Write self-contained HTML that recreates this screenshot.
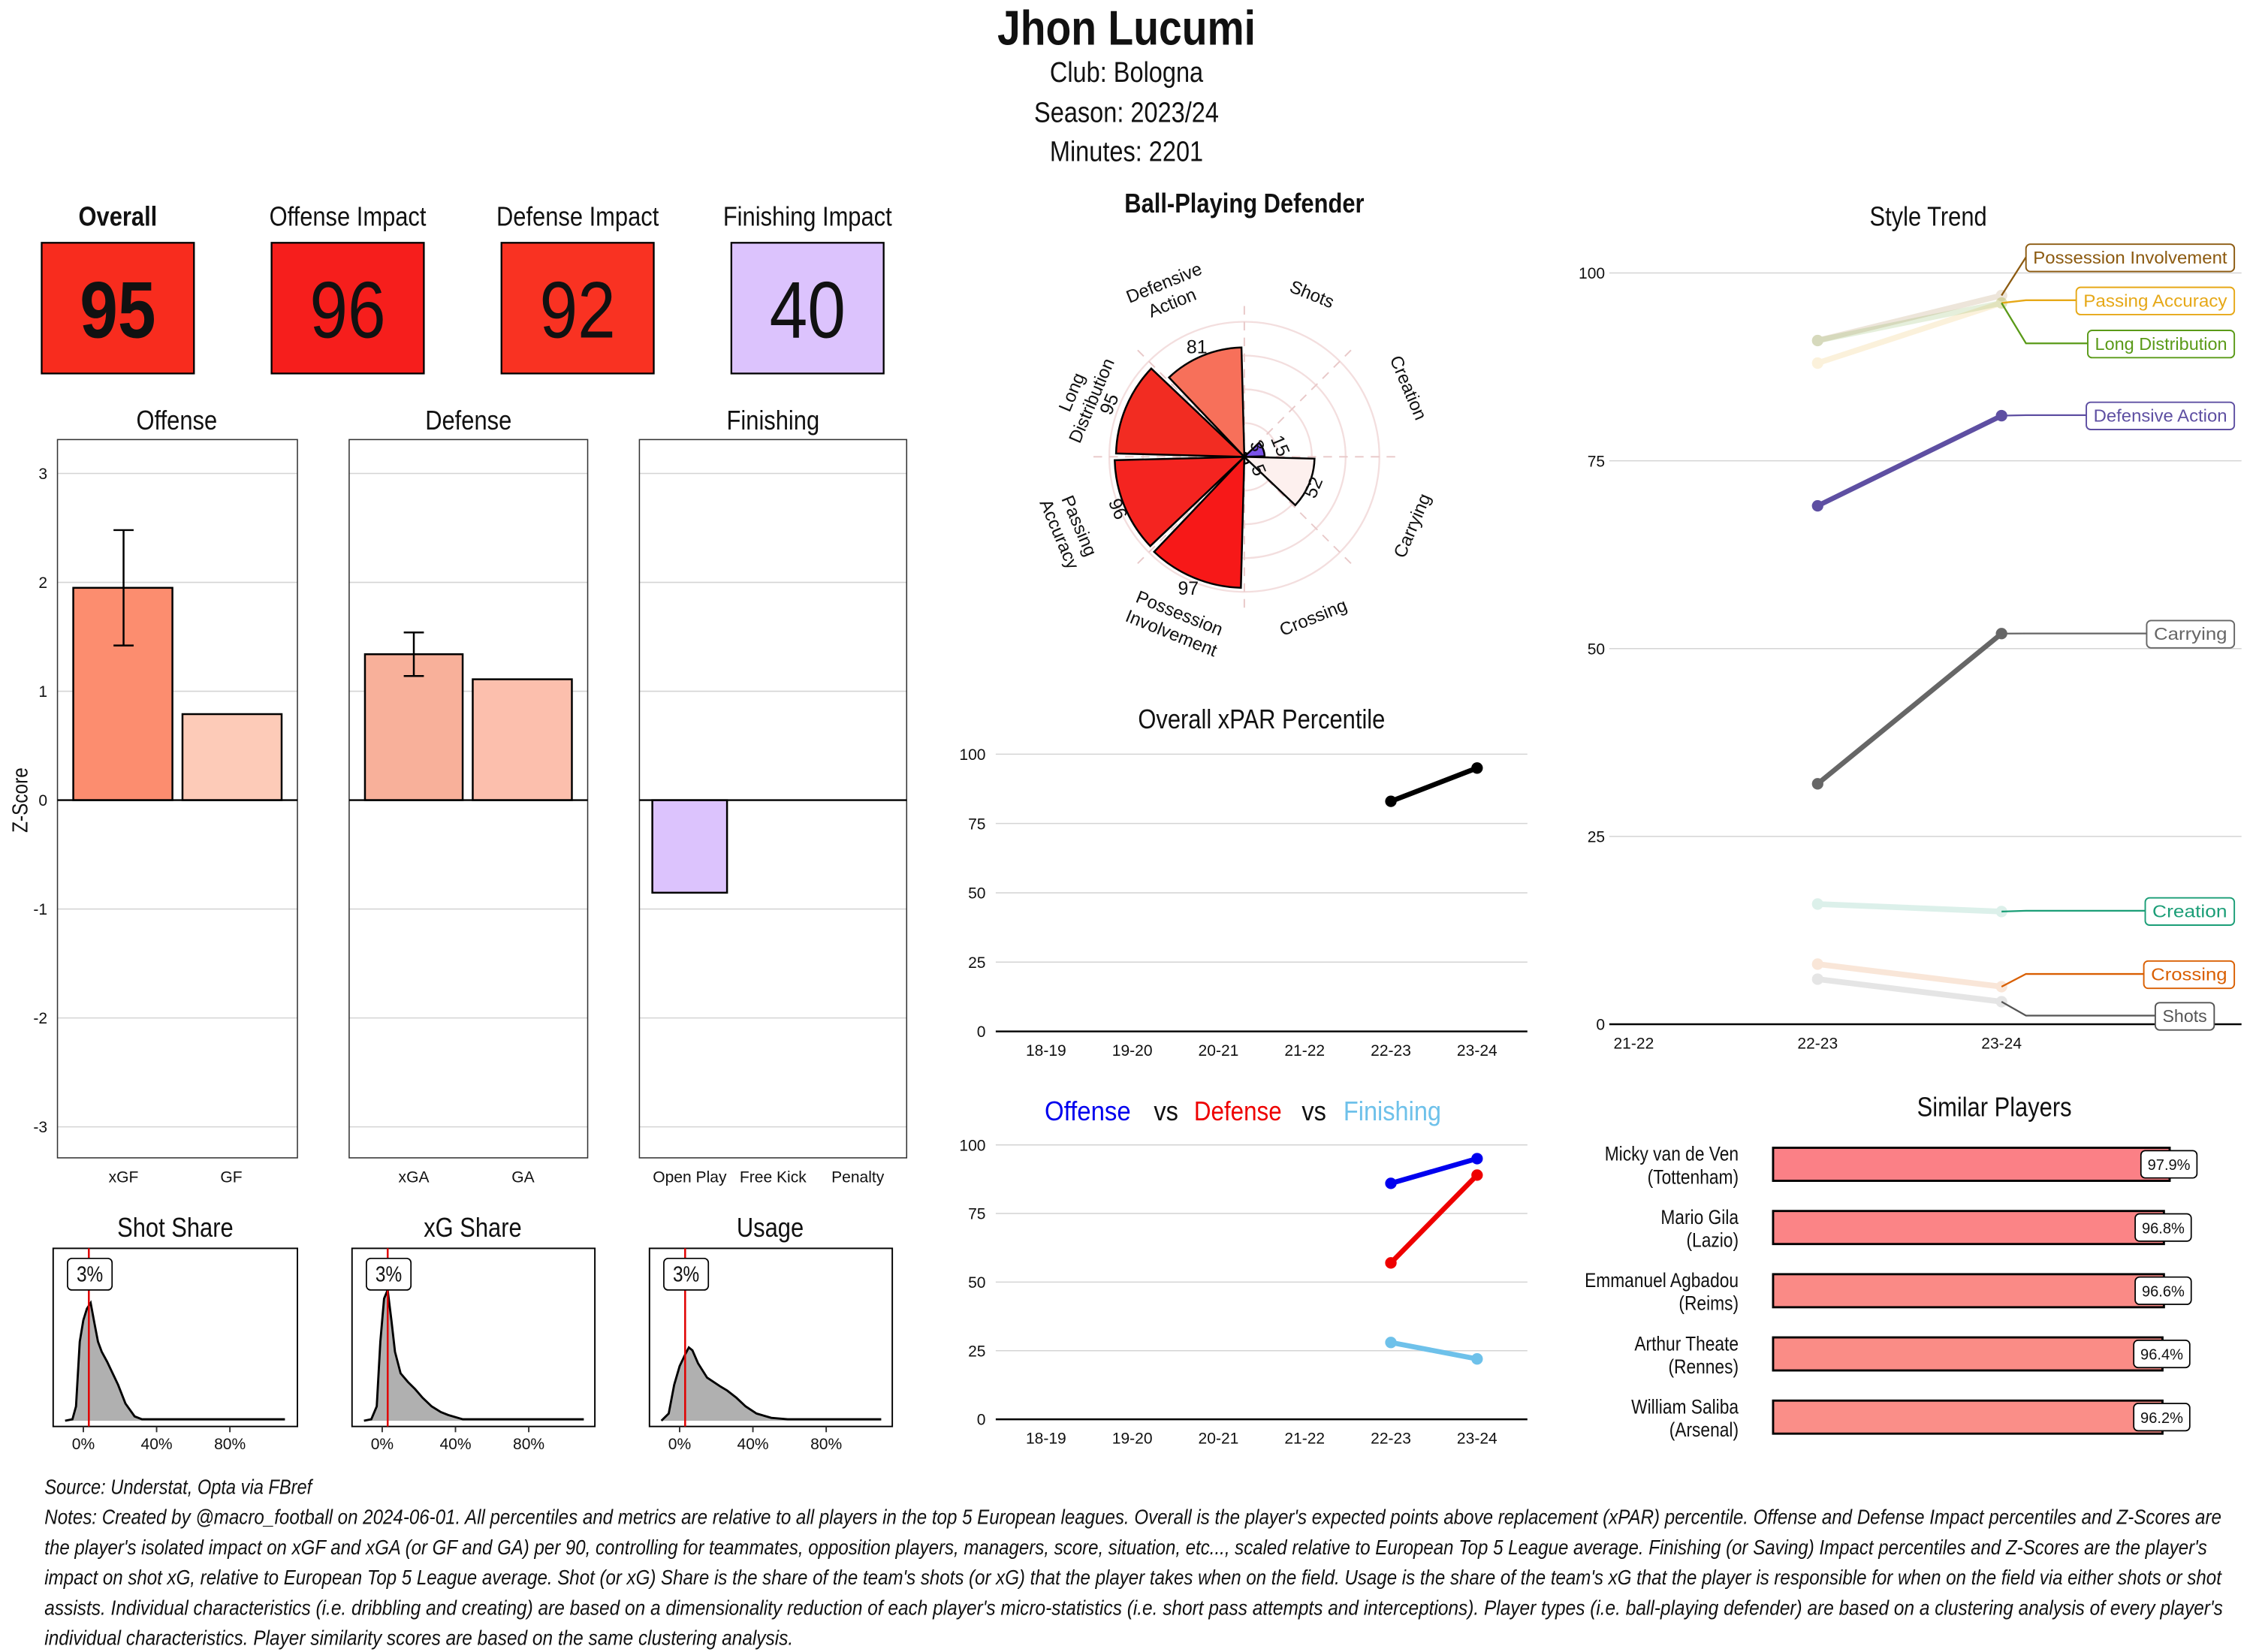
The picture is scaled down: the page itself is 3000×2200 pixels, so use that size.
<!DOCTYPE html>
<html><head><meta charset="utf-8"><style>
html,body{margin:0;padding:0;background:#fff;}
svg{display:block;}
text{font-family:"Liberation Sans Narrow","Liberation Sans",sans-serif;}
text:not([fill]){fill:#111;}
.ax{font-family:"Liberation Sans",sans-serif;font-size:11px;fill:#333;}
.gr{stroke:#d4d4d4;stroke-width:0.8;}
.ft{font-style:italic;font-size:14.5px;fill:#111;}
</style></head><body>
<svg id="s" width="3000" height="2200" viewBox="0 0 1568 1150" preserveAspectRatio="none" xmlns="http://www.w3.org/2000/svg">
<rect width="1568" height="1150" fill="#fff"/>
<text class="n" x="784" y="31" text-anchor="middle" font-size="34" font-weight="bold">Jhon Lucumi</text>
<text class="n" x="784" y="57" text-anchor="middle" font-size="20">Club:  Bologna</text>
<text class="n" x="784" y="85" text-anchor="middle" font-size="20">Season:  2023/24</text>
<text class="n" x="784" y="112" text-anchor="middle" font-size="20">Minutes:  2201</text>

<text class="n" x="82" y="157" text-anchor="middle" font-size="19" font-weight="bold">Overall</text>
<text class="n" x="242" y="157" text-anchor="middle" font-size="19">Offense Impact</text>
<text class="n" x="402" y="157" text-anchor="middle" font-size="19">Defense Impact</text>
<text class="n" x="562" y="157" text-anchor="middle" font-size="19">Finishing Impact</text>
<rect x="29" y="169" width="106" height="91" fill="#f82c1e" stroke="#000" stroke-width="1.2"/>
<rect x="189" y="169" width="106" height="91" fill="#f61e1c" stroke="#000" stroke-width="1.2"/>
<rect x="349" y="169" width="106" height="91" fill="#f93222" stroke="#000" stroke-width="1.2"/>
<rect x="509" y="169" width="106" height="91" fill="#dcc3fd" stroke="#000" stroke-width="1.2"/>
<text class="n" x="82" y="235" text-anchor="middle" font-size="56" font-weight="bold">95</text>
<text class="n" x="242" y="235" text-anchor="middle" font-size="56">96</text>
<text class="n" x="402" y="235" text-anchor="middle" font-size="56">92</text>
<text class="n" x="562" y="235" text-anchor="middle" font-size="56">40</text>

<g id="zp"></g>
<text class="n" x="123" y="299" text-anchor="middle" font-size="19">Offense</text>
<text class="n" x="326" y="299" text-anchor="middle" font-size="19">Defense</text>
<text class="n" x="538" y="299" text-anchor="middle" font-size="19">Finishing</text>
<text transform="translate(19,557) rotate(-90) scale(0.85,1)" text-anchor="middle" font-size="15">Z-Score</text>

<text class="n" x="122" y="861" text-anchor="middle" font-size="19">Shot Share</text>
<text class="n" x="329" y="861" text-anchor="middle" font-size="19">xG Share</text>
<text class="n" x="536" y="861" text-anchor="middle" font-size="19">Usage</text>
<g id="dp"></g>

<text class="n" x="866" y="148" text-anchor="middle" font-size="19" font-weight="bold">Ball-Playing Defender</text>
<g id="polar"></g>

<text class="n" x="878" y="507" text-anchor="middle" font-size="19">Overall xPAR Percentile</text>
<g id="xpar"></g>
<text x="727" y="780" font-size="19" fill="#0000ee" textLength="60" lengthAdjust="spacingAndGlyphs">Offense</text>
<text x="803" y="780" font-size="19" textLength="17" lengthAdjust="spacingAndGlyphs">vs</text>
<text x="831" y="780" font-size="19" fill="#ee0000" textLength="61" lengthAdjust="spacingAndGlyphs">Defense</text>
<text x="906" y="780" font-size="19" textLength="17" lengthAdjust="spacingAndGlyphs">vs</text>
<text x="935" y="780" font-size="19" fill="#6ec1ea" textLength="68" lengthAdjust="spacingAndGlyphs">Finishing</text>
<g id="ovd"></g>

<text class="n" x="1342" y="157" text-anchor="middle" font-size="19">Style Trend</text>
<g id="st"></g>

<text class="n" x="1388" y="777" text-anchor="middle" font-size="19">Similar Players</text>
<g id="sp"></g>

<text class="ft" x="31" y="1040" textLength="186" lengthAdjust="spacingAndGlyphs">Source: Understat, Opta via FBref</text>
<text class="ft" x="31" y="1061" textLength="1515" lengthAdjust="spacingAndGlyphs">Notes: Created by @macro_football on 2024-06-01. All percentiles and metrics are relative to all players in the top 5 European leagues. Overall is the player's expected points above replacement (xPAR) percentile. Offense and Defense Impact percentiles and Z-Scores are</text>
<text class="ft" x="31" y="1082" textLength="1505" lengthAdjust="spacingAndGlyphs">the player's isolated impact on xGF and xGA (or GF and GA) per 90, controlling for teammates, opposition players, managers, score, situation, etc..., scaled relative to European Top 5 League average. Finishing (or Saving) Impact percentiles and Z-Scores are the player's</text>
<text class="ft" x="31" y="1103" textLength="1515" lengthAdjust="spacingAndGlyphs">impact on shot xG, relative to European Top 5 League average. Shot (or xG) Share is the share of the team's shots (or xG) that the player takes when on the field. Usage is the share of the team's xG that the player is responsible for when on the field via either shots or shot</text>
<text class="ft" x="31" y="1124" textLength="1516" lengthAdjust="spacingAndGlyphs">assists. Individual characteristics (i.e. dribbling and creating) are based on a dimensionality reduction of each player's micro-statistics (i.e. short pass attempts and interceptions). Player types (i.e. ball-playing defender) are based on a clustering analysis of every player's</text>
<text class="ft" x="31" y="1145" textLength="521" lengthAdjust="spacingAndGlyphs">individual characteristics. Player similarity scores are based on the same clustering analysis.</text>
</svg>
<script>
const NS="http://www.w3.org/2000/svg";
function el(parent,tag,attrs,txt){const e=document.createElementNS(NS,tag);for(const k in attrs)e.setAttribute(k,attrs[k]);if(txt!==undefined)e.textContent=txt;document.getElementById(parent).appendChild(e);return e;}
const zy=v=>557-v*75.8;
const panels=[[40,207],[243,409],[445,631]];
panels.forEach(([a,b])=>{
  for(let v=-3;v<=3;v++){ if(v!==0) el('zp','line',{x1:a,x2:b,y1:zy(v),y2:zy(v),class:'gr'}); }
  el('zp','rect',{x:a,y:306,width:b-a,height:500,fill:'none',stroke:'#333','stroke-width':0.8});
});
for(let v=-3;v<=3;v++) el('zp','text',{x:33,y:zy(v)+4,'text-anchor':'end',class:'ax'},String(v));
function bar(x1,x2,v,c){const y=Math.min(zy(v),557),h=Math.abs(zy(v)-557);el('zp','rect',{x:x1,y:y,width:x2-x1,height:h,fill:c,stroke:'#000','stroke-width':1.3});}
bar(51,120,1.95,'#fc8d6f');bar(127,196,0.79,'#fdcbb8');bar(254,322,1.34,'#f8b09a');bar(329,398,1.11,'#fcbfad');bar(454,506,-0.85,'#dcc3fd');
panels.forEach(([a,b])=>el('zp','line',{x1:a,x2:b,y1:557,y2:557,stroke:'#000','stroke-width':1.2}));
function eb(x,lo,hi){el('zp','path',{d:`M${x-7},${zy(hi)}H${x+7}M${x},${zy(hi)}V${zy(lo)}M${x-7},${zy(lo)}H${x+7}`,stroke:'#000','stroke-width':1.3,fill:'none'});}
eb(86,1.42,2.48);eb(288,1.14,1.54);
[['xGF',86],['GF',161],['xGA',288],['GA',364],['Open Play',480],['Free Kick',538],['Penalty',597]].forEach(([t,x])=>el('zp','text',{x:x,y:823,'text-anchor':'middle',class:'ax'},t));

const dens=[
 [[-10,0],[-6,1],[-4,10],[-2,55],[0,70],[2,78],[4,82],[6,68],[8,55],[10,48],[13,41],[16,33],[19,25],[23,12],[28,3],[32,1],[60,1],[110,1]],
 [[-10,0],[-6,1],[-3,10],[-1,55],[1,85],[3,91],[5,70],[7,48],[10,33],[14,27],[18,22],[22,16],[27,10],[32,6],[36,4],[44,1],[80,1],[110,1]],
 [[-10,0],[-6,5],[-3,25],[0,38],[3,46],[5,51],[7,49],[10,40],[15,30],[22,24],[26,21],[31,16],[36,10],[42,5],[50,2],[59,1],[110,1]]];
[[37,207],[245,414],[452,621]].forEach(([a,b],i)=>{
  const x0=a+21, sx=51/40, base=989;
  let d='';
  dens[i].forEach(([p,h],j)=>{d+=(j?'L':'M')+`${(x0+p*sx).toFixed(1)},${(base-h).toFixed(1)}`;});
  el('dp','path',{d:d+`L${x0+110*sx},${base}L${x0-10*sx},${base}Z`,fill:'#b0b0b0',stroke:'none'});
  el('dp','path',{d:d,fill:'none',stroke:'#000','stroke-width':1.5});
  el('dp','rect',{x:a,y:869,width:b-a,height:124,fill:'none',stroke:'#000','stroke-width':1});
  el('dp','line',{x1:x0+3*sx,x2:x0+3*sx,y1:869,y2:993,stroke:'#e00000','stroke-width':1.3});
  el('dp','rect',{x:a+10,y:876,width:31,height:22,rx:3,fill:'#fff',stroke:'#000','stroke-width':0.9});
  el('dp','text',{transform:`translate(${a+25.5},892) scale(0.85,1)`,'text-anchor':'middle','font-size':15},'3%');
  [0,40,80].forEach(p=>{const x=x0+p*sx;el('dp','line',{x1:x,x2:x,y1:993,y2:997,stroke:'#333'});el('dp','text',{x:x,y:1009,'text-anchor':'middle',class:'ax'},p+'%');});
});

const cx=866,cy=318,k=0.94;
const pt=(r,t)=>[cx+r*Math.sin(t*Math.PI/180),cy-r*Math.cos(t*Math.PI/180)];
[25,50,75,100].forEach(v=>el('polar','circle',{cx:cx,cy:cy,r:v*k,fill:'none',stroke:'#f3dede','stroke-width':1.2}));
for(let a=0;a<360;a+=45){const p=pt(105,a);el('polar','line',{x1:cx,y1:cy,x2:p[0],y2:p[1],stroke:'#e8c8c8','stroke-dasharray':'6,5','stroke-width':1});}
const vals=[[3,'#fff5f0'],[15,'#7a52e8'],[52,'#fdf0ee'],[5,'#fff5f0'],[97,'#f71818'],[96,'#f42420'],[95,'#f22c22'],[81,'#f7705a']];
vals.forEach(([v,c],i)=>{const a1=i*45+1.5,a2=i*45+43.5,r=v*k;const p1=pt(r,a1),p2=pt(r,a2);
 el('polar','path',{d:`M${cx},${cy}L${p1[0]},${p1[1]}A${r},${r} 0 0 1 ${p2[0]},${p2[1]}Z`,fill:c,stroke:'#000','stroke-width':1.3});});
const lab=(x,y,rot,lines)=>{const t=el('polar','text',{transform:`translate(${x},${y}) rotate(${rot})`,'text-anchor':'middle','font-family':'Liberation Sans, sans-serif','font-size':12.5});lines.forEach((l,i)=>{const s=document.createElementNS(NS,'tspan');s.setAttribute('x',0);s.setAttribute('dy',i==0?(-(lines.length-1)*7.5+4):15);s.textContent=l;t.appendChild(s);});};
lab(913,205,22,['Shots']);lab(980,270,67,['Creation']);lab(983,366,-67,['Carrying']);lab(914,430,-22,['Crossing']);
lab(818,434,22,['Possession','Involvement']);lab(744,369,67,['Passing','Accuracy']);lab(753,276,-67,['Long','Distribution']);lab(813,204,-22,['Defensive','Action']);
[[833,246,0,'81'],[776,283,-67,'95'],[774,356,67,'96'],[827,414,0,'97'],[918,341,-67,'52'],[887,312,67,'15'],[871,312,67,'3'],[872,329,67,'5']].forEach(([x,y,r,t])=>el('polar','text',{transform:`translate(${x},${y}) rotate(${r})`,'text-anchor':'middle','font-family':'Liberation Sans, sans-serif','font-size':13},t));

function lc(g,top,bot,series){
  const sy=v=>bot-(bot-top)*v/100;
  [0,25,50,75,100].forEach(v=>{if(v>0)el(g,'line',{x1:693,x2:1063,y1:sy(v),y2:sy(v),class:'gr'});el(g,'text',{x:686,y:sy(v)+4,'text-anchor':'end',class:'ax'},v);});
  el(g,'line',{x1:693,x2:1063,y1:bot,y2:bot,stroke:'#000','stroke-width':1.3});
  ['18-19','19-20','20-21','21-22','22-23','23-24'].forEach((t,i)=>el(g,'text',{x:728+60*i,y:bot+17,'text-anchor':'middle',class:'ax'},t));
  series.forEach(([a,b,c])=>{el(g,'line',{x1:968,y1:sy(a),x2:1028,y2:sy(b),stroke:c,'stroke-width':3.5});[[968,a],[1028,b]].forEach(([x,v])=>el(g,'circle',{cx:x,cy:sy(v),r:4,fill:c}));});
}
lc('xpar',525,718,[[83,95,'#000']]);
lc('ovd',797,988,[[86,95,'#0000ee'],[57,89,'#ee0000'],[28,22,'#6ec1ea']]);

const ty=v=>713-v*5.23;
[25,50,75,100].forEach(v=>el('st','line',{x1:1120,x2:1560,y1:ty(v),y2:ty(v),class:'gr'}));
[0,25,50,75,100].forEach(v=>el('st','text',{x:1117,y:ty(v)+4,'text-anchor':'end',class:'ax'},v));
el('st','line',{x1:1120,x2:1560,y1:713,y2:713,stroke:'#000','stroke-width':1.3});
[['21-22',1137],['22-23',1265],['23-24',1393]].forEach(([t,x])=>el('st','text',{x:x,y:730,'text-anchor':'middle',class:'ax'},t));
const ss=[
 ['Possession Involvement','#8c5a10',91,97,179,0.15,1410],
 ['Passing Accuracy','#e6a817',88,96,209,0.15,1445],
 ['Long Distribution','#5a9a18',91,96,239,0.15,1453],
 ['Defensive Action','#5e4fa2',69,81,289,1,1452],
 ['Carrying','#666666',32,52,441,1,1494],
 ['Creation','#1b9e77',16,15,634,0.15,1493],
 ['Crossing','#d95f02',8,5,678,0.15,1492],
 ['Shots','#555555',6,3,707,0.15,1500]];
ss.forEach(([n,c,a,b,ly,op])=>{
  const g=el('st','g',{opacity:op});
  const L=(tag,at)=>{const e=document.createElementNS(NS,tag);for(const kk in at)e.setAttribute(kk,at[kk]);g.appendChild(e);};
  L('line',{x1:1265,y1:ty(a),x2:1393,y2:ty(b),stroke:c,'stroke-width':op<1?4:3.5});
  L('circle',{cx:1265,cy:ty(a),r:4,fill:c});L('circle',{cx:1393,cy:ty(b),r:4,fill:c});
});
ss.forEach(([n,c,a,b,ly,op,x])=>{
  const xr=n=='Shots'?1541:1555; const w=xr-x;
  const yb=ty(b);
  el('st','path',{d:`M1393,${yb}L${Math.min(1410,x)},${ly}H${x}`,stroke:c,fill:'none','stroke-width':1.2});
  el('st','rect',{x:x,y:ly-9,width:w,height:19,rx:3,fill:'#fff',stroke:c,'stroke-width':1});
  el('st','text',{x:x+w/2,y:ly+4.5,'text-anchor':'middle','font-family':'Liberation Sans, sans-serif','font-size':12,fill:c,textLength:w-10,lengthAdjust:'spacingAndGlyphs'},n);
});

[['Micky van de Ven','(Tottenham)',1510,'97.9%','#fb8086'],['Mario Gila','(Lazio)',1506,'96.8%','#fb8486'],['Emmanuel Agbadou','(Reims)',1506,'96.6%','#fa8a86'],['Arthur Theate','(Rennes)',1505,'96.4%','#fa8c86'],['William Saliba','(Arsenal)',1505,'96.2%','#fa8e88']].forEach(([a,b,xe,p,c],i)=>{
  const y=799+44*i;
  el('sp','rect',{x:1234,y:y,width:xe-1234,height:23,fill:c,stroke:'#000','stroke-width':1.5});
  el('sp','rect',{x:xe-20,y:y+2,width:39,height:19,rx:3,fill:'#fff',stroke:'#000','stroke-width':0.9});
  el('sp','text',{x:xe-0.5,y:y+15.5,'text-anchor':'middle','font-family':'Liberation Sans, sans-serif','font-size':10.5},p);
  el('sp','text',{x:1210,y:y+9,'text-anchor':'end','font-size':14,class:'n'},a);
  el('sp','text',{x:1210,y:y+25,'text-anchor':'end','font-size':14,class:'n'},b);
});
document.querySelectorAll('text.n').forEach(t=>{
  const x=t.getAttribute('x'),y=t.getAttribute('y');
  t.setAttribute('x',0);t.setAttribute('y',0);
  t.setAttribute('transform',`translate(${x},${y}) scale(0.85,1)`);
});
</script>
</body></html>
